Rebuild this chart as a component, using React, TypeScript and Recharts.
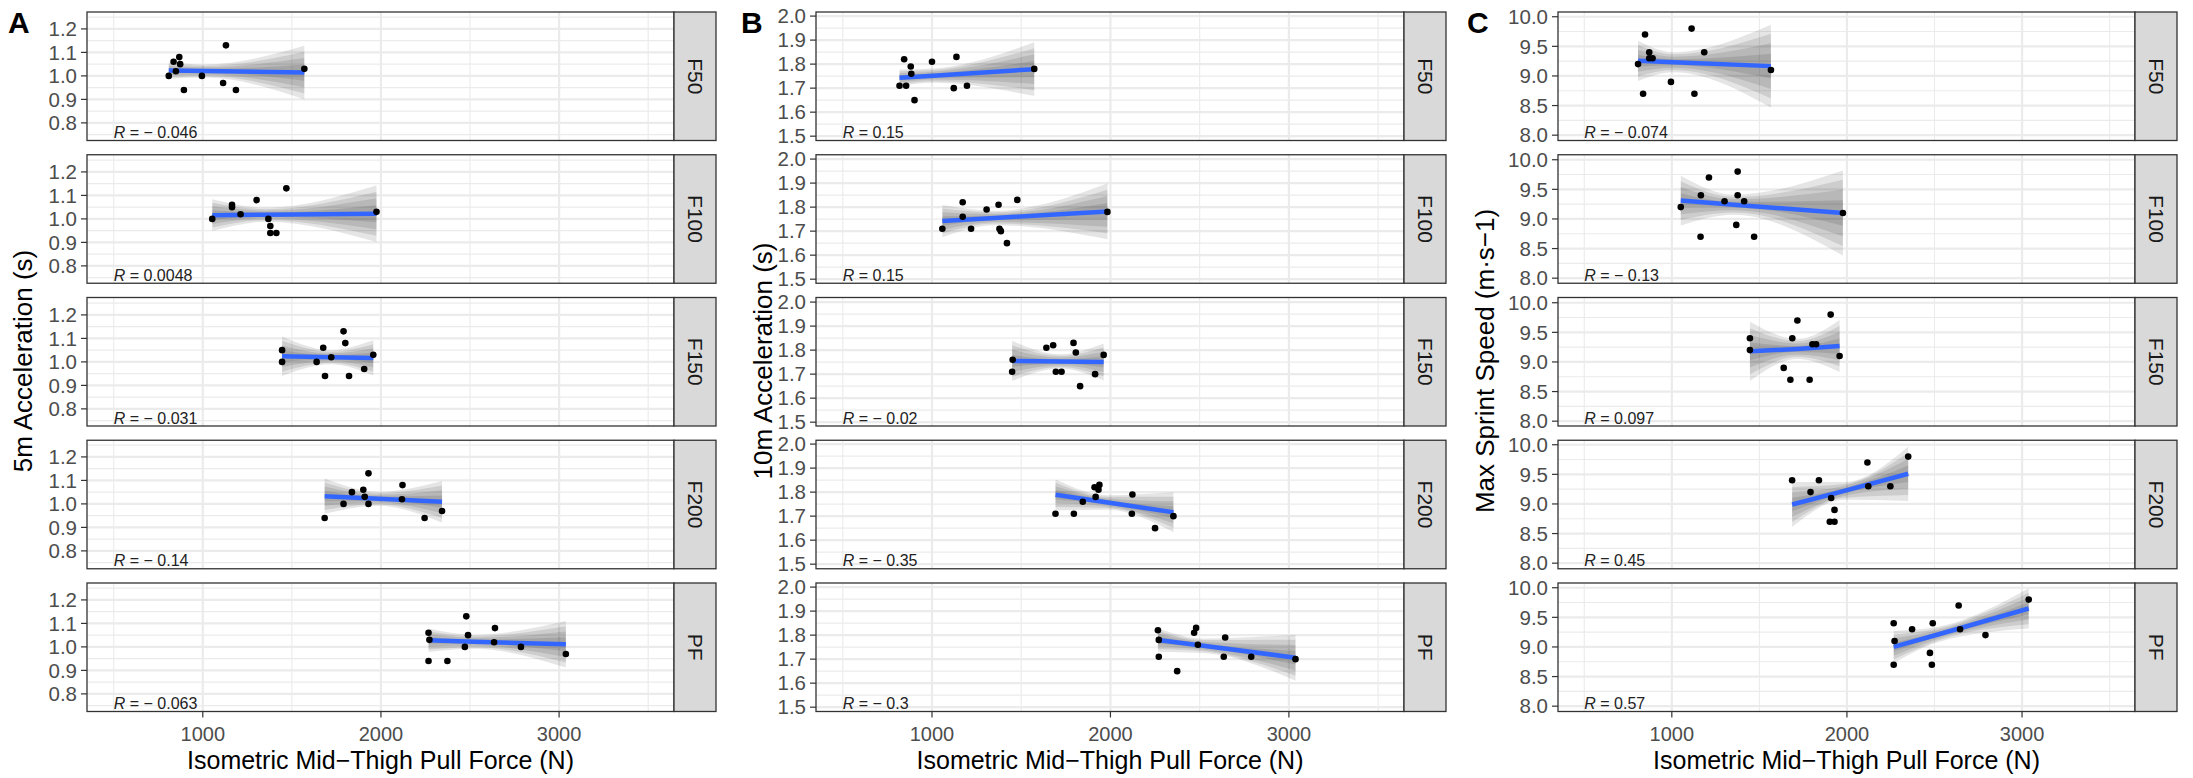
import React from "react";
import {
  ComposedChart,
  Scatter,
  Line,
  Area,
  XAxis,
  YAxis,
  CartesianGrid,
  ReferenceDot,
} from "recharts";

const FONT = "'Liberation Sans', Arial, Helvetica, sans-serif";

// ---------- shared ----------
const facetLabels = ["F50", "F100", "F150", "F200", "PF"];
const xTicks = [1000, 2000, 3000];
const xMinor = [500, 1500, 2500, 3500];
const xDomain: [number, number] = [350, 3645];
const rLabelX = 500;
const bandLevels = [1, 0.78, 0.55, 0.3];

// ---------- A: 5m acceleration ----------
const a5F50X = [809, 836, 849, 868, 873, 894, 995, 1114, 1130, 1186, 1570];
const a5F50Y = [1.0, 1.06, 1.02, 1.08, 1.05, 0.94, 1.0, 0.97, 1.13, 0.94, 1.03];
const a5F100X = [1053, 1164, 1164, 1212, 1302, 1368, 1379, 1379, 1413, 1469, 1975];
const a5F100Y = [1.0, 1.06, 1.05, 1.02, 1.08, 1.0, 0.97, 0.94, 0.94, 1.13, 1.03];
const a5F150X = [1445, 1445, 1639, 1676, 1686, 1721, 1790, 1800, 1821, 1906, 1957];
const a5F150Y = [1.05, 1.0, 1.0, 1.06, 0.94, 1.02, 1.13, 1.08, 0.94, 0.97, 1.03];
const a5F200X = [1684, 1790, 1837, 1901, 1909, 1930, 1930, 2121, 2118, 2245, 2343];
const a5F200Y = [0.94, 1.0, 1.05, 1.06, 1.03, 1.0, 1.13, 1.08, 1.02, 0.94, 0.97];
const a5PFX = [2267, 2272, 2267, 2373, 2479, 2489, 2471, 2640, 2635, 2786, 3038];
const a5PFY = [1.06, 1.03, 0.94, 0.94, 1.13, 1.05, 1.0, 1.08, 1.02, 1.0, 0.97];
const a5FitX = [[809, 1010, 1570], [1053, 1353, 1975], [1445, 1717, 1957], [1684, 1983, 2343], [2267, 2520, 3038]];
const a5FitY = [[1.023, 1.021, 1.014], [1.016, 1.018, 1.022], [1.024, 1.02, 1.017], [1.033, 1.022, 1.009], [1.028, 1.022, 1.011]];
const a5Half = [[0.035, 0.028, 0.114], [0.068, 0.03, 0.12], [0.084, 0.03, 0.075], [0.075, 0.03, 0.089], [0.05, 0.03, 0.099]];
const a5R = [-0.046, 0.0048, -0.031, -0.14, -0.063];
const a5Ticks = [0.8, 0.9, 1.0, 1.1, 1.2];
const a5Minor = [0.75, 0.85, 0.95, 1.05, 1.15, 1.25];

// ---------- B: 10m acceleration ----------
const a10F50X = [818, 844, 855, 881, 884, 902, 1000, 1122, 1137, 1196, 1573];
const a10F50Y = [1.71, 1.82, 1.71, 1.79, 1.76, 1.65, 1.81, 1.7, 1.83, 1.71, 1.78];
const a10F100X = [1058, 1172, 1172, 1219, 1306, 1373, 1378, 1386, 1420, 1478, 1983];
const a10F100Y = [1.71, 1.82, 1.76, 1.71, 1.79, 1.81, 1.71, 1.7, 1.65, 1.83, 1.78];
const a10F150X = [1452, 1449, 1641, 1679, 1694, 1726, 1793, 1806, 1830, 1914, 1962];
const a10F150Y = [1.76, 1.71, 1.81, 1.82, 1.71, 1.71, 1.83, 1.79, 1.65, 1.7, 1.78];
const a10F200X = [1692, 1795, 1845, 1911, 1917, 1933, 1938, 2123, 2120, 2250, 2353];
const a10F200Y = [1.71, 1.71, 1.76, 1.82, 1.78, 1.81, 1.83, 1.79, 1.71, 1.65, 1.7];
const a10PFX = [2266, 2271, 2271, 2374, 2469, 2480, 2490, 2635, 2643, 2789, 3037];
const a10PFY = [1.82, 1.78, 1.71, 1.65, 1.81, 1.83, 1.76, 1.71, 1.79, 1.71, 1.7];
const a10FitX = [[818, 1010, 1573], [1058, 1353, 1983], [1449, 1717, 1962], [1692, 1985, 2353], [2266, 2520, 3037]];
const a10FitY = [[1.743, 1.752, 1.779], [1.742, 1.755, 1.782], [1.755, 1.753, 1.751], [1.789, 1.757, 1.716], [1.78, 1.756, 1.706]];
const a10Half = [[0.035, 0.03, 0.112], [0.067, 0.03, 0.116], [0.084, 0.03, 0.077], [0.065, 0.03, 0.083], [0.049, 0.03, 0.096]];
const a10R = [0.15, 0.15, -0.02, -0.35, -0.3];
const a10Ticks = [1.5, 1.6, 1.7, 1.8, 1.9, 2.0];
const a10Minor = [1.55, 1.65, 1.75, 1.85, 1.95];

// ---------- C: max sprint speed ----------
const msF50X = [807, 836, 847, 871, 871, 890, 995, 1113, 1129, 1185, 1566];
const msF50Y = [9.2, 8.7, 9.7, 9.4, 9.3, 9.3, 8.9, 9.8, 8.7, 9.4, 9.1];
const msF100X = [1051, 1164, 1166, 1212, 1301, 1368, 1376, 1376, 1413, 1470, 1977];
const msF100Y = [9.2, 8.7, 9.4, 9.7, 9.3, 8.9, 9.8, 9.4, 9.3, 8.7, 9.1];
const msF150X = [1446, 1446, 1639, 1677, 1688, 1717, 1787, 1803, 1824, 1907, 1958];
const msF150Y = [9.4, 9.2, 8.9, 8.7, 9.4, 9.7, 8.7, 9.3, 9.3, 9.8, 9.1];
const msF200X = [1687, 1792, 1840, 1910, 1929, 1902, 1929, 2117, 2122, 2248, 2350];
const msF200Y = [9.4, 9.2, 9.4, 9.1, 8.9, 8.7, 8.7, 9.7, 9.3, 9.3, 9.8];
const msPFX = [2267, 2272, 2267, 2372, 2490, 2474, 2485, 2638, 2646, 2791, 3038];
const msPFY = [9.4, 9.1, 8.7, 9.3, 9.4, 8.9, 8.7, 9.7, 9.3, 9.2, 9.8];
const msFitX = [[807, 1010, 1566], [1051, 1353, 1977], [1446, 1717, 1958], [1687, 1985, 2350], [2267, 2520, 3038]];
const msFitY = [[9.256, 9.232, 9.166], [9.31, 9.24, 9.1], [9.18, 9.22, 9.27], [8.99, 9.22, 9.51], [9.0, 9.21, 9.65]];
const msHalf = [[0.34, 0.17, 0.7], [0.42, 0.17, 0.72], [0.5, 0.17, 0.44], [0.38, 0.15, 0.46], [0.27, 0.13, 0.34]];
const msR = [-0.074, -0.13, 0.097, 0.45, 0.57];
const msTicks = [8.0, 8.5, 9.0, 9.5, 10.0];
const msMinor = [8.25, 8.75, 9.25, 9.75];

const columns = [
  {
    letter: "A",
    yTitle: "5m Acceleration (s)",
    yDomain: [0.725, 1.272] as [number, number],
    yTicks: a5Ticks,
    yMinor: a5Minor,
    xs: [a5F50X, a5F100X, a5F150X, a5F200X, a5PFX],
    ys: [a5F50Y, a5F100Y, a5F150Y, a5F200Y, a5PFY],
    fitX: a5FitX,
    fitY: a5FitY,
    half: a5Half,
    r: a5R,
  },
  {
    letter: "B",
    yTitle: "10m Acceleration (s)",
    yDomain: [1.482, 2.017] as [number, number],
    yTicks: a10Ticks,
    yMinor: a10Minor,
    xs: [a10F50X, a10F100X, a10F150X, a10F200X, a10PFX],
    ys: [a10F50Y, a10F100Y, a10F150Y, a10F200Y, a10PFY],
    fitX: a10FitX,
    fitY: a10FitY,
    half: a10Half,
    r: a10R,
  },
  {
    letter: "C",
    yTitle: "Max Sprint Speed (m\u00B7s\u22121)",
    yDomain: [7.91, 10.08] as [number, number],
    yTicks: msTicks,
    yMinor: msMinor,
    xs: [msF50X, msF100X, msF150X, msF200X, msPFX],
    ys: [msF50Y, msF100Y, msF150Y, msF200Y, msPFY],
    fitX: msFitX,
    fitY: msFitY,
    half: msHalf,
    r: msR,
  },
];

// ---------- layout (pixels) ----------
const colLayout = [
  { panelL: 87, panelR: 674, titleX: 22, letterX: 8 },
  { panelL: 816, panelR: 1404, titleX: 762, letterX: 741 },
  { panelL: 1558, panelR: 2135, titleX: 1484, letterX: 1467 },
];
const rowTops = [12, 154.75, 297.5, 440.25, 583];
const PANEL_H = 128.5;
const STRIP_W = 42;
const AXIS_W = 75;
const XAXIS_H = 50;
const PAD = 12;

const fmtR = (n: number) => (n < 0 ? `\u2212 ${Math.abs(n)}` : `${n}`);

const YTick = (props: any) => {
  const { x, y, payload } = props;
  return (
    <text x={x} y={y} dy={7.3} textAnchor="end" fontSize={20.5} fontFamily={FONT} fill="#4d4d4d">
      {Number(payload.value).toFixed(1)}
    </text>
  );
};

const XTick = (props: any) => {
  const { x, y, payload } = props;
  return (
    <text x={x} y={y} dy={21} textAnchor="middle" fontSize={20} fontFamily={FONT} fill="#4d4d4d">
      {payload.value}
    </text>
  );
};

const Dot = (props: any) => {
  const { cx, cy } = props;
  if (cx == null || cy == null) return null;
  return <circle cx={cx} cy={cy} r={3.3} fill="#000" />;
};

function Facet({ c, r }: { c: number; r: number }) {
  const col = columns[c];
  const lay = colLayout[c];
  const W = lay.panelR - lay.panelL;
  const isBottom = r === 4;
  const points = col.xs[r].map((x, i) => ({ x, y: col.ys[r][i] }));
  const fit = col.fitX[r].map((x, i) => ({ x, y: col.fitY[r][i] }));
  const bands = bandLevels.map((m) =>
    col.fitX[r].map((x, i) => ({
      x,
      band: [col.fitY[r][i] - col.half[r][i] * m, col.fitY[r][i] + col.half[r][i] * m],
    }))
  );
  const rText = fmtR(col.r[r]);
  return (
    <div style={{ position: "absolute", left: lay.panelL - AXIS_W, top: rowTops[r] - PAD }}>
      <ComposedChart
        width={W + AXIS_W}
        height={PANEL_H + PAD + (isBottom ? XAXIS_H : PAD)}
        margin={{ top: PAD, right: 0, bottom: isBottom ? 0 : PAD, left: 0 }}
      >
        <CartesianGrid
          horizontalValues={col.yMinor}
          verticalValues={xMinor}
          stroke="#ebebeb"
          strokeWidth={1.1}
          fill="#ffffff"
        />
        <CartesianGrid
          horizontalValues={col.yTicks}
          verticalValues={xTicks}
          stroke="#ebebeb"
          strokeWidth={2.2}
        />
        <XAxis
          type="number"
          dataKey="x"
          domain={xDomain}
          allowDataOverflow
          ticks={xTicks}
          interval={0}
          hide={!isBottom}
          height={isBottom ? XAXIS_H : 0}
          tickSize={6}
          tickMargin={2}
          axisLine={false}
          tickLine={{ stroke: "#333333", strokeWidth: 1.2 }}
          tick={<XTick />}
        />
        <YAxis
          type="number"
          dataKey="y"
          domain={col.yDomain}
          allowDataOverflow
          ticks={col.yTicks}
          interval={0}
          width={AXIS_W}
          tickSize={6}
          tickMargin={4}
          axisLine={false}
          tickLine={{ stroke: "#333333", strokeWidth: 1.2 }}
          tick={<YTick />}
        />
        {bands.map((b, i) => (
          <Area
            key={`band${i}`}
            data={b}
            dataKey="band"
            type="monotone"
            stroke="none"
            fill="#000000"
            fillOpacity={0.1}
            isAnimationActive={false}
            activeDot={false}
            dot={false}
          />
        ))}
        <Line
          data={fit}
          dataKey="y"
          type="linear"
          stroke="#3366FF"
          strokeWidth={4.5}
          dot={false}
          activeDot={false}
          isAnimationActive={false}
        />
        <Scatter data={points} dataKey="y" shape={<Dot />} isAnimationActive={false} />
        <ReferenceDot
          x={rLabelX}
          y={col.yDomain[0]}
          r={0}
          shape={(p: any) => (
            <text x={p.cx} y={p.cy - 3} fontSize={16} fontFamily={FONT} fill="#222">
              <tspan fontStyle="italic">R</tspan>
              {` = ${rText}`}
            </text>
          )}
        />
      </ComposedChart>
    </div>
  );
}

function Overlay() {
  const items: React.ReactNode[] = [];
  colLayout.forEach((lay, c) => {
    const col = columns[c];
    rowTops.forEach((top, r) => {
      items.push(
        <rect key={`pb${c}${r}`} x={lay.panelL} y={top} width={lay.panelR - lay.panelL} height={PANEL_H}
          fill="none" stroke="#333333" strokeWidth={1.3} />
      );
      items.push(
        <rect key={`st${c}${r}`} x={lay.panelR} y={top} width={STRIP_W} height={PANEL_H}
          fill="#d9d9d9" stroke="#333333" strokeWidth={1.3} />
      );
      const cx = lay.panelR + STRIP_W / 2;
      const cy = top + PANEL_H / 2;
      items.push(
        <text key={`sl${c}${r}`} x={0} y={0} dy={7.5} textAnchor="middle"
          transform={`translate(${cx} ${cy}) rotate(90)`} fontSize={21} fontFamily={FONT} fill="#1a1a1a">
          {facetLabels[r]}
        </text>
      );
    });
    const midX = (lay.panelL + lay.panelR) / 2;
    items.push(
      <text key={`xt${c}`} x={midX} y={769} textAnchor="middle" fontSize={25} fontFamily={FONT} fill="#000">
        Isometric Mid{"\u2212"}Thigh Pull Force (N)
      </text>
    );
    items.push(
      <text key={`yt${c}`} x={0} y={0} dy={9.5} textAnchor="middle"
        transform={`translate(${lay.titleX} 361) rotate(-90)`} fontSize={26} fontFamily={FONT} fill="#000">
        {col.yTitle}
      </text>
    );
    items.push(
      <text key={`lt${c}`} x={lay.letterX} y={33} fontSize={30} fontWeight="bold" fontFamily={FONT} fill="#000">
        {col.letter}
      </text>
    );
  });
  return (
    <svg width={2193} height={778} style={{ position: "absolute", left: 0, top: 0, pointerEvents: "none" }}>
      {items}
    </svg>
  );
}

export default function App() {
  const facets: React.ReactNode[] = [];
  for (let c = 0; c < 3; c++) {
    for (let r = 0; r < 5; r++) {
      facets.push(<Facet key={`f${c}${r}`} c={c} r={r} />);
    }
  }
  return (
    <div style={{ position: "absolute", left: 0, top: 0, width: 2193, height: 778, background: "#ffffff", overflow: "hidden" }}>
      {facets}
      <Overlay />
    </div>
  );
}
